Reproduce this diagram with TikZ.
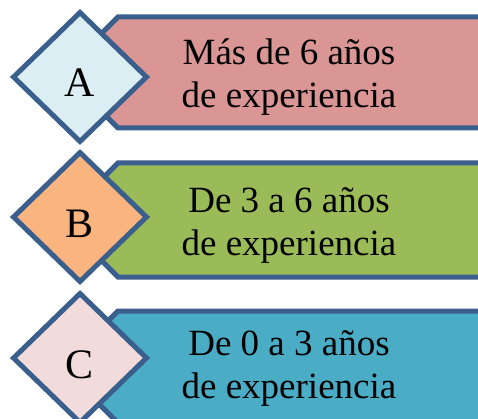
\documentclass[tikz,border=0pt]{standalone}
\usepackage{fontspec}
\setmainfont{Liberation Serif}
\usepackage{tikz}
\usetikzlibrary{shapes.geometric}

\definecolor{edgeblue}{HTML}{3A5F8C}
\definecolor{roseband}{HTML}{D99694}
\definecolor{greenband}{HTML}{9BBB59}
\definecolor{tealband}{HTML}{4BACC6}
\definecolor{iceblue}{HTML}{DAEEF3}
\definecolor{peach}{HTML}{FAB480}
\definecolor{blush}{HTML}{F2DCDB}

\tikzset{
	band/.style={draw=edgeblue,line width=5pt,line join=miter},
	badge/.style={shape=diamond,draw=edgeblue,line width=5pt,inner sep=0pt,
		minimum width=135pt,minimum height=131pt,
		text height=40pt,text depth=0pt,font=\fontsize{42}{42}\selectfont},
	caption/.style={align=center,anchor=base,font=\fontsize{37}{43}\selectfont}
}

\begin{document}
\begin{tikzpicture}[x=1pt,y=-1pt]
	\clip (0,0) rectangle (478,419);

	% bands
	\draw[band,fill=roseband] (118,17) -- (490,17) -- (490,128) -- (118,128) -- (62.5,72.5) -- cycle;
	\draw[band,fill=greenband] (118,163) -- (490,163) -- (490,277) -- (118,277) -- (61,220) -- cycle;
	\draw[band,fill=tealband] (118,311) -- (490,311) -- (490,423) -- (118,423) -- (62,367) -- cycle;

	% letters
	\node[badge,fill=iceblue] (A) at (80,77) {A};
	\node[badge,fill=peach] (B) at (80,217) {B};
	\node[badge,fill=blush] (C) at (80,358) {C};

	% base = last line
	\node[caption] (textA) at (289,108) {Más de 6 años\\de experiencia};
	\node[caption] (textB) at (289,255) {De 3 a 6 años\\de experiencia};
	\node[caption] (textC) at (289,398) {De 0 a 3 años\\de experiencia};
\end{tikzpicture}
\end{document}
